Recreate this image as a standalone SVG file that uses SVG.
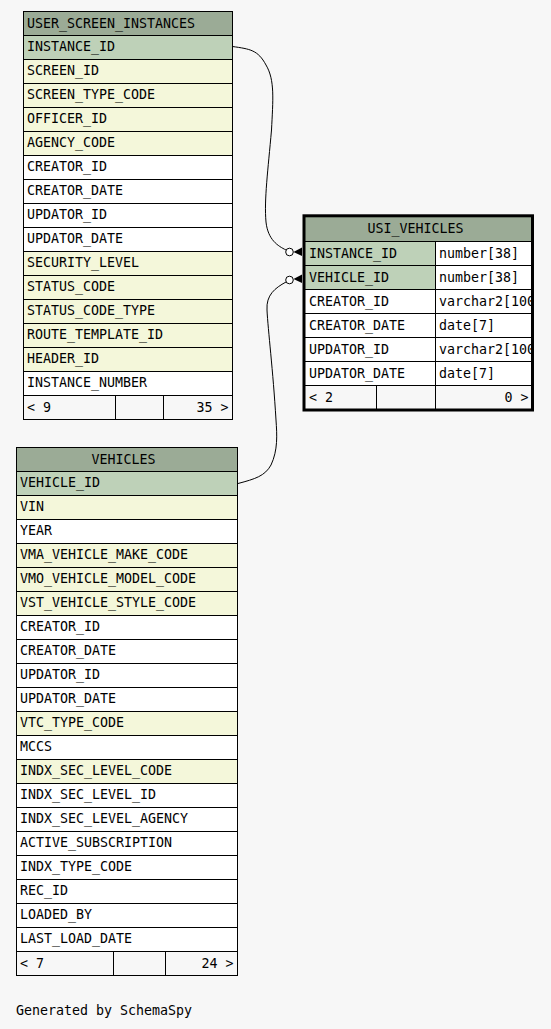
<svg xmlns="http://www.w3.org/2000/svg" width="551" height="1029" viewBox="0 0 551 1029">
<style>
text{font-family:"DejaVu Sans Mono","Liberation Mono",monospace;font-size:13.3px;fill:#000}
.h{fill:#9bab96;stroke:#000;stroke-width:1}
.k{fill:#bed1b8;stroke:#000;stroke-width:1}
.f{fill:#f4f7da;stroke:#000;stroke-width:1}
.w{fill:#fff;stroke:#000;stroke-width:1}
.ft{fill:#f7f7f7;stroke:#000;stroke-width:1}
.ln{fill:none;stroke:#000;stroke-width:1}
.e{fill:none;stroke:#000;stroke-width:1}
.c{fill:#fff;stroke:#000;stroke-width:1}
</style>
<defs>
<clipPath id="clipR"><rect x="436" y="242" width="95" height="144"/></clipPath>
</defs>
<rect width="551" height="1029" fill="#f7f7f7"/>

<g id="connectors">
<path class="e" d="M232.5,46.5 C250,49 258,50 266,65 C275,80 273,100 271.5,130 C268,170 264,200 266,222 C268,240 278,246 286,250"/>
<circle class="c" cx="289.5" cy="252" r="3.8"/>
<polygon points="293.5,252 302,247.5 302,256" fill="#000"/>
<path class="e" d="M238,483.5 C255,479 265,476 271,465 C278,450 277,435 276,420 C273,370 268,330 267,310 C266,295 275,288 286,282"/>
<circle class="c" cx="289.5" cy="280" r="3.8"/>
<polygon points="293.5,279 302,274.5 302,283" fill="#000"/>
</g>

<g id="USER_SCREEN_INSTANCES">
<rect class="h" x="23.5" y="11.5" width="209" height="24"/>
<text x="27" y="27.5">USER_SCREEN_INSTANCES</text>
<rect class="k" x="23.5" y="35.5" width="209" height="24"/><text x="27" y="51">INSTANCE_ID</text>
<rect class="f" x="23.5" y="59.5" width="209" height="24"/><text x="27" y="75">SCREEN_ID</text>
<rect class="f" x="23.5" y="83.5" width="209" height="24"/><text x="27" y="99">SCREEN_TYPE_CODE</text>
<rect class="f" x="23.5" y="107.5" width="209" height="24"/><text x="27" y="123">OFFICER_ID</text>
<rect class="f" x="23.5" y="131.5" width="209" height="24"/><text x="27" y="147">AGENCY_CODE</text>
<rect class="w" x="23.5" y="155.5" width="209" height="24"/><text x="27" y="171">CREATOR_ID</text>
<rect class="w" x="23.5" y="179.5" width="209" height="24"/><text x="27" y="195">CREATOR_DATE</text>
<rect class="w" x="23.5" y="203.5" width="209" height="24"/><text x="27" y="219">UPDATOR_ID</text>
<rect class="w" x="23.5" y="227.5" width="209" height="24"/><text x="27" y="243">UPDATOR_DATE</text>
<rect class="f" x="23.5" y="251.5" width="209" height="24"/><text x="27" y="267">SECURITY_LEVEL</text>
<rect class="f" x="23.5" y="275.5" width="209" height="24"/><text x="27" y="291">STATUS_CODE</text>
<rect class="f" x="23.5" y="299.5" width="209" height="24"/><text x="27" y="315">STATUS_CODE_TYPE</text>
<rect class="f" x="23.5" y="323.5" width="209" height="24"/><text x="27" y="339">ROUTE_TEMPLATE_ID</text>
<rect class="f" x="23.5" y="347.5" width="209" height="24"/><text x="27" y="363">HEADER_ID</text>
<rect class="w" x="23.5" y="371.5" width="209" height="24"/><text x="27" y="387">INSTANCE_NUMBER</text>
<rect class="ft" x="23.5" y="395.5" width="209" height="24"/>
<path class="ln" d="M115.5,395.5V419.5M163.5,395.5V419.5"/>
<text x="27" y="411.5">&lt; 9</text>
<text x="228.5" y="411.5" text-anchor="end">35 &gt;</text>
</g>

<g id="USI_VEHICLES">
<rect x="304" y="216" width="228" height="194" fill="#fff"/>
<rect x="304" y="216" width="228" height="25.5" fill="#9bab96"/>
<text x="367.5" y="233">USI_VEHICLES</text>
<rect class="k" x="304" y="241.5" width="131.5" height="24"/><text x="309" y="257.5">INSTANCE_ID</text>
<rect class="w" x="435.5" y="241.5" width="96.5" height="24"/>
<rect class="k" x="304" y="265.5" width="131.5" height="24"/><text x="309" y="281.5">VEHICLE_ID</text>
<rect class="w" x="435.5" y="265.5" width="96.5" height="24"/>
<rect class="w" x="304" y="289.5" width="131.5" height="24"/><text x="309" y="305.5">CREATOR_ID</text>
<rect class="w" x="435.5" y="289.5" width="96.5" height="24"/>
<rect class="w" x="304" y="313.5" width="131.5" height="24"/><text x="309" y="329.5">CREATOR_DATE</text>
<rect class="w" x="435.5" y="313.5" width="96.5" height="24"/>
<rect class="w" x="304" y="337.5" width="131.5" height="24"/><text x="309" y="353.5">UPDATOR_ID</text>
<rect class="w" x="435.5" y="337.5" width="96.5" height="24"/>
<rect class="w" x="304" y="361.5" width="131.5" height="24"/><text x="309" y="377.5">UPDATOR_DATE</text>
<rect class="w" x="435.5" y="361.5" width="96.5" height="24"/>
<g clip-path="url(#clipR)">
<text x="439" y="257.5">number[38]</text>
<text x="439" y="281.5">number[38]</text>
<text x="439" y="305.5">varchar2[100]</text>
<text x="439" y="329.5">date[7]</text>
<text x="439" y="353.5">varchar2[100]</text>
<text x="439" y="377.5">date[7]</text>
</g>
<rect class="ft" x="304" y="385.5" width="228" height="24"/>
<path class="ln" d="M376.5,385.5V409.5M435.5,385.5V409.5"/>
<text x="309" y="401.5">&lt; 2</text>
<text x="528.5" y="401.5" text-anchor="end">0 &gt;</text>
<rect x="304" y="215.8" width="228.5" height="194.2" fill="none" stroke="#000" stroke-width="3"/>
</g>

<g id="VEHICLES">
<rect class="h" x="16.5" y="447.5" width="221" height="24"/>
<text x="91.5" y="463.5">VEHICLES</text>
<rect class="k" x="16.5" y="471.5" width="221" height="24"/><text x="20" y="487">VEHICLE_ID</text>
<rect class="f" x="16.5" y="495.5" width="221" height="24"/><text x="20" y="511">VIN</text>
<rect class="w" x="16.5" y="519.5" width="221" height="24"/><text x="20" y="535">YEAR</text>
<rect class="f" x="16.5" y="543.5" width="221" height="24"/><text x="20" y="559">VMA_VEHICLE_MAKE_CODE</text>
<rect class="f" x="16.5" y="567.5" width="221" height="24"/><text x="20" y="583">VMO_VEHICLE_MODEL_CODE</text>
<rect class="f" x="16.5" y="591.5" width="221" height="24"/><text x="20" y="607">VST_VEHICLE_STYLE_CODE</text>
<rect class="w" x="16.5" y="615.5" width="221" height="24"/><text x="20" y="631">CREATOR_ID</text>
<rect class="w" x="16.5" y="639.5" width="221" height="24"/><text x="20" y="655">CREATOR_DATE</text>
<rect class="w" x="16.5" y="663.5" width="221" height="24"/><text x="20" y="679">UPDATOR_ID</text>
<rect class="w" x="16.5" y="687.5" width="221" height="24"/><text x="20" y="703">UPDATOR_DATE</text>
<rect class="f" x="16.5" y="711.5" width="221" height="24"/><text x="20" y="727">VTC_TYPE_CODE</text>
<rect class="w" x="16.5" y="735.5" width="221" height="24"/><text x="20" y="751">MCCS</text>
<rect class="f" x="16.5" y="759.5" width="221" height="24"/><text x="20" y="775">INDX_SEC_LEVEL_CODE</text>
<rect class="w" x="16.5" y="783.5" width="221" height="24"/><text x="20" y="799">INDX_SEC_LEVEL_ID</text>
<rect class="w" x="16.5" y="807.5" width="221" height="24"/><text x="20" y="823">INDX_SEC_LEVEL_AGENCY</text>
<rect class="w" x="16.5" y="831.5" width="221" height="24"/><text x="20" y="847">ACTIVE_SUBSCRIPTION</text>
<rect class="w" x="16.5" y="855.5" width="221" height="24"/><text x="20" y="871">INDX_TYPE_CODE</text>
<rect class="w" x="16.5" y="879.5" width="221" height="24"/><text x="20" y="895">REC_ID</text>
<rect class="w" x="16.5" y="903.5" width="221" height="24"/><text x="20" y="919">LOADED_BY</text>
<rect class="w" x="16.5" y="927.5" width="221" height="24"/><text x="20" y="943">LAST_LOAD_DATE</text>
<rect class="ft" x="16.5" y="951.5" width="221" height="24"/>
<path class="ln" d="M113.5,951.5V975.5M165.5,951.5V975.5"/>
<text x="20" y="967.5">&lt; 7</text>
<text x="233.5" y="967.5" text-anchor="end">24 &gt;</text>
</g>

<text x="16" y="1014.5">Generated by SchemaSpy</text>
</svg>
